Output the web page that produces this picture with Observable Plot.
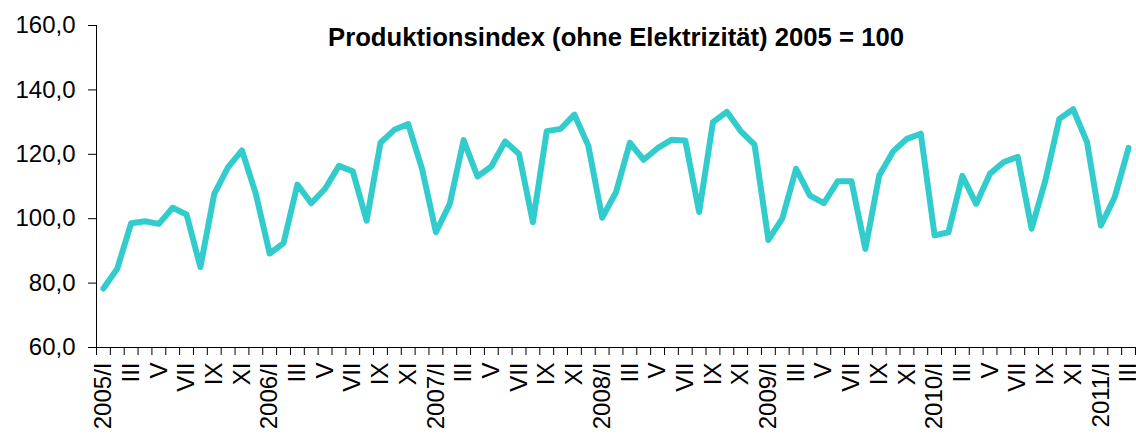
<!DOCTYPE html>
<html>
<head>
<meta charset="utf-8">
<script src="https://cdn.jsdelivr.net/npm/d3@7"></script>
<script src="https://cdn.jsdelivr.net/npm/@observablehq/plot@0.6"></script>
<style>
  html, body { margin: 0; padding: 0; background: #fff; }
  #chart { width: 1136px; height: 437px; }
</style>
</head>
<body>
<div id="chart"></div>
<script>
const title = "Produktionsindex (ohne Elektrizität) 2005 = 100";
const years = [2005, 2006, 2007, 2008, 2009, 2010, 2011];
const romanMonths = ["I", "II", "III", "IV", "V", "VI", "VII", "VIII", "IX", "X", "XI", "XII"];
const values = [
  78.3, 84.5, 98.6, 99.2, 98.4, 103.4, 101.3, 85.0, 107.7, 116.0, 121.2, 107.7,
  89.2, 92.4, 110.6, 104.8, 109.3, 116.4, 114.7, 99.4, 123.6, 127.6, 129.4, 115.5,
  95.8, 104.6, 124.4, 113.1, 116.2, 124.0, 120.1, 98.9, 127.2, 127.9, 132.3, 122.7,
  100.3, 108.2, 123.6, 118.3, 121.9, 124.5, 124.3, 102.1, 130.0, 133.2, 127.2, 123.0,
  93.4, 100.0, 115.5, 107.2, 104.8, 111.6, 111.6, 90.6, 113.4, 120.9, 124.8, 126.4,
  94.8, 95.8, 113.3, 104.6, 114.0, 117.6, 119.2, 96.9, 112.0, 131.0, 134.0, 123.8,
  97.9, 106.7, 122.0
];
const yTicks = [60, 80, 100, 120, 140, 160];

// category labels: "YYYY/I" for January, roman numeral otherwise
const categories = values.map((_, i) => {
  const y = years[Math.floor(i / 12)];
  const m = i % 12;
  return m === 0 ? `${y}/I` : romanMonths[m];
});
const data = values.map((v, i) => ({i, v, label: categories[i]}));
const labelIdx = d3.range(0, values.length, 2);
const boundaries = d3.range(-0.5, values.length, 1);

const chart = Plot.plot({
  width: 1136,
  height: 437,
  marginLeft: 96,
  marginRight: 1,
  marginTop: 25,
  marginBottom: 90,
  style: {fontFamily: "'Liberation Sans', Arial, sans-serif", color: "#000", background: "#fff"},
  x: {type: "linear", domain: [-0.5, values.length - 0.5], axis: null},
  y: {domain: [60, 160], axis: null},
  marks: [
    Plot.axisY({ticks: yTicks, tickSize: 8, tickPadding: 13, fontSize: 24, label: null,
      tickFormat: d => d.toFixed(1).replace(".", ","), stroke: "#000"}),
    Plot.axisX({ticks: boundaries, tickSize: 8, tickFormat: () => "", label: null, stroke: "#000"}),
    Plot.axisX({ticks: labelIdx, tickSize: 0, tickPadding: 15, tickRotate: -90, fontSize: 24, label: null,
      tickFormat: i => categories[i]}),
    Plot.ruleX([-0.5], {stroke: "#000", strokeWidth: 1}),
    Plot.ruleY([60], {stroke: "#000", strokeWidth: 1}),
    Plot.line(data, {x: "i", y: "v", stroke: "#33CCCC", strokeWidth: 6, strokeLinejoin: "round"}),
    Plot.text([title], {frameAnchor: "top", dy: 2, fontSize: 25.7, fontWeight: "bold", fill: "#000"})
  ]
});
document.getElementById("chart").appendChild(chart);
</script>
</body>
</html>
